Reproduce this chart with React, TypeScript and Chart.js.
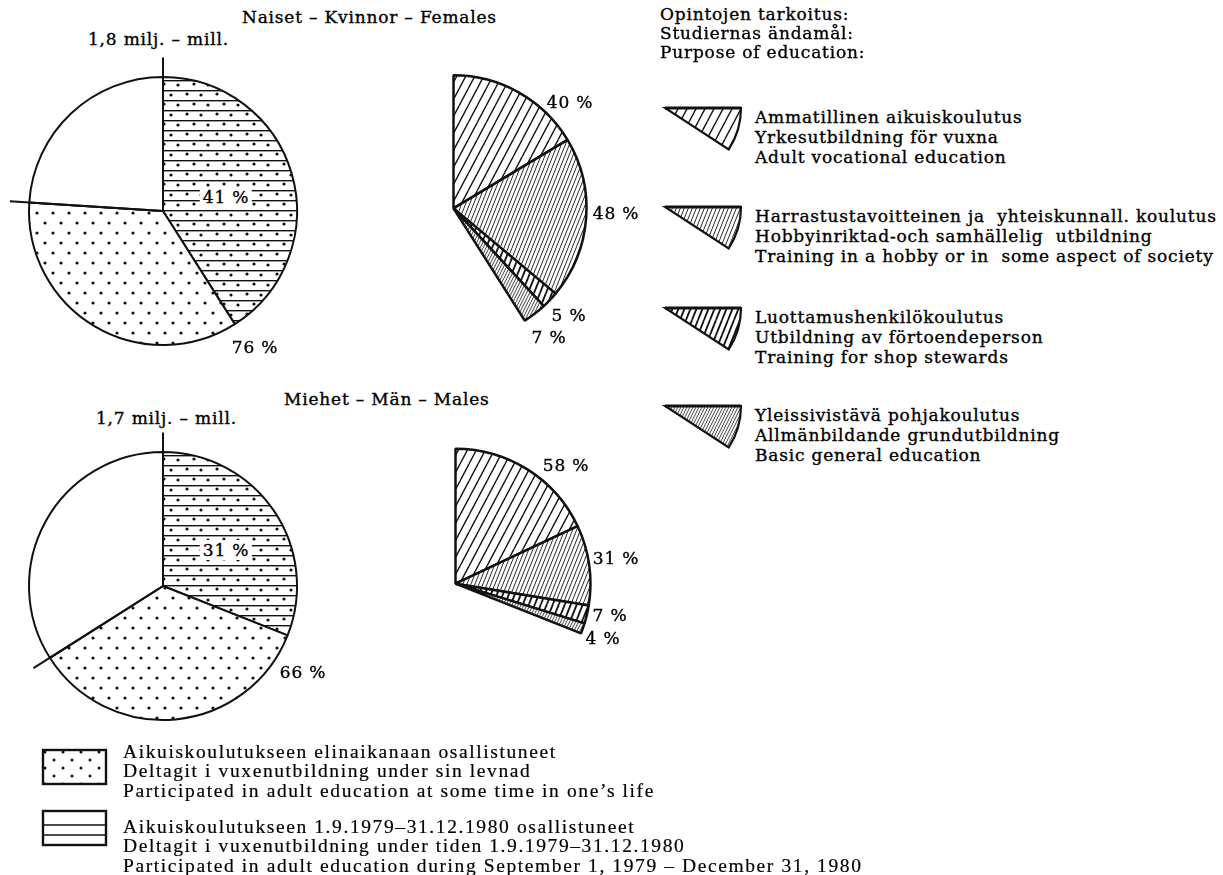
import React, { useEffect, useRef } from "react";
import { Chart, registerables } from "chart.js";

Chart.register(...registerables);

const INK = "#111111";

// ---------------- data ----------------
const purposeKeys = ["vocational", "hobby", "stewards", "basic"];
const purposeHeader = ["Opintojen tarkoitus:", "Studiernas ändamål:", "Purpose of education:"];
const purposeFi = [
  "Ammatillinen aikuiskoulutus",
  "Harrastustavoitteinen ja  yhteiskunnall. koulutus",
  "Luottamushenkilökoulutus",
  "Yleissivistävä pohjakoulutus",
];
const purposeSv = [
  "Yrkesutbildning för vuxna",
  "Hobbyinriktad-och samhällelig  utbildning",
  "Utbildning av förtoendeperson",
  "Allmänbildande grundutbildning",
];
const purposeEn = [
  "Adult vocational education",
  "Training in a hobby or in  some aspect of society",
  "Training for shop stewards",
  "Basic general education",
];

const participationKeys = ["recent", "earlier", "never"];
const participationFi = ["Aikuiskoulutukseen elinaikanaan osallistuneet", "Aikuiskoulutukseen 1.9.1979–31.12.1980 osallistuneet"];
const participationSv = ["Deltagit i vuxenutbildning under sin levnad", "Deltagit i vuxenutbildning under tiden 1.9.1979–31.12.1980"];
const participationEn = [
  "Participated in adult education at some time in one’s life",
  "Participated in adult education during September 1, 1979 – December 31, 1980",
];

const femaleTitle = "Naiset – Kvinnor – Females";
const femaleTotal = "1,8 milj. – mill.";
const femaleRecent = 41; // % participated 1.9.1979–31.12.1980
const femaleLifetime = 76; // % participated at some time
const femalePurpose = [40, 48, 5, 7];

const maleTitle = "Miehet – Män – Males";
const maleTotal = "1,7 milj. – mill.";
const maleRecent = 31;
const maleLifetime = 66;
const malePurpose = [58, 31, 7, 4];

// ---------------- styles ----------------
const HATCH: Record<string, { w: number; h: number; lw: number }> = {
  vocational: { w: 9, h: 17, lw: 1.4 },
  hobby: { w: 4, h: 10, lw: 0.9 },
  stewards: { w: 6, h: 15, lw: 1.8 },
  basic: { w: 3, h: 6, lw: 0.8 },
};

const TOP_FONT: React.CSSProperties = {
  fontFamily: '"DejaVu Serif", serif',
  fontSize: 17,
  letterSpacing: 0.8,
  color: "#000",
  lineHeight: "20px",
  whiteSpace: "pre",
  WebkitTextStroke: "0.35px #000",
};
const BOTTOM_FONT: React.CSSProperties = {
  fontFamily: '"Liberation Serif", serif',
  fontSize: 19.5,
  letterSpacing: 1.6,
  color: "#000",
  lineHeight: "20px",
  whiteSpace: "pre",
  WebkitTextStroke: "0.2px #000",
};

// ---------------- patterns ----------------
function tile(w: number, h: number, draw: (c: CanvasRenderingContext2D) => void): CanvasPattern {
  const cv = document.createElement("canvas");
  cv.width = w;
  cv.height = h;
  const c = cv.getContext("2d")!;
  c.fillStyle = "#fff";
  c.fillRect(0, 0, w, h);
  draw(c);
  return c.createPattern(cv, "repeat")!;
}

function dot(c: CanvasRenderingContext2D, x: number, y: number, r: number) {
  c.beginPath();
  c.arc(x, y, r, 0, Math.PI * 2);
  c.fill();
}

let cache: Record<string, CanvasPattern | string> | null = null;
function getPatterns() {
  if (cache) return cache;
  const p: Record<string, CanvasPattern | string> = { never: "#ffffff" };
  for (const k of purposeKeys) {
    const s = HATCH[k];
    p[k] = tile(s.w, s.h, (c) => {
      c.strokeStyle = INK;
      c.lineWidth = s.lw;
      for (const dx of [-s.w, 0, s.w]) {
        c.beginPath();
        c.moveTo(dx, s.h);
        c.lineTo(dx + s.w, 0);
        c.stroke();
      }
    });
  }
  p.earlier = tile(16, 20, (c) => {
    c.fillStyle = INK;
    dot(c, 3, 3, 1.6);
    dot(c, 11, 13, 1.6);
  });
  p.recent = tile(30, 20, (c) => {
    c.fillStyle = INK;
    c.fillRect(0, 0, 30, 1.4);
    c.fillRect(0, 10, 30, 1.4);
    dot(c, 5, 4, 1.6);
    dot(c, 19, 5, 1.6);
    dot(c, 12, 14, 1.6);
    dot(c, 26, 15, 1.6);
  });
  cache = p;
  return p;
}

// extension lines that mark the cumulative share on the full pies
const extLinesPlugin = {
  id: "extLines",
  afterDatasetsDraw(chart: any, _args: any, opts: any) {
    if (!opts || !opts.enabled) return;
    const arcs = chart.getDatasetMeta(0).data as any[];
    const first = arcs[0];
    const last = arcs[opts.lastIndex];
    const { x, y, outerRadius } = first;
    const len = outerRadius * opts.factor;
    const ctx = chart.ctx as CanvasRenderingContext2D;
    ctx.save();
    ctx.strokeStyle = INK;
    ctx.lineWidth = opts.width;
    for (const a of [first.startAngle, last.endAngle]) {
      ctx.beginPath();
      ctx.moveTo(x, y);
      ctx.lineTo(x + Math.cos(a) * len, y + Math.sin(a) * len);
      ctx.stroke();
    }
    ctx.restore();
  },
};

type PieProps = {
  cx: number;
  cy: number;
  r: number;
  values: number[];
  fills: string[];
  labels: string[];
  circumference: number;
  ext: boolean;
  border: number;
};

function PieCanvas({ cx, cy, r, values, fills, labels, circumference, ext, border }: PieProps) {
  const wrap = useRef<HTMLDivElement>(null);
  const cv = useRef<HTMLCanvasElement>(null);
  const size = Math.ceil(r * 2.4);
  useEffect(() => {
    const pats = getPatterns();
    const chart = new Chart(cv.current!, {
      type: "pie",
      data: {
        labels,
        datasets: [
          {
            data: values,
            backgroundColor: fills.map((f) => pats[f]),
            borderColor: INK,
            borderWidth: border,
            radius: r,
            rotation: 0,
            circumference,
          },
        ],
      },
      options: {
        responsive: false,
        animation: false,
        events: [],
        plugins: {
          legend: { display: false },
          tooltip: { enabled: false },
          extLines: { enabled: ext, factor: 1.145, lastIndex: 1, width: 2 },
        },
      },
      plugins: [extLinesPlugin],
    } as any);
    const a = chart.getDatasetMeta(0).data[0] as any;
    if (wrap.current) {
      wrap.current.style.left = `${cx - a.x}px`;
      wrap.current.style.top = `${cy - a.y}px`;
    }
    return () => chart.destroy();
  }, []);
  return (
    <div ref={wrap} style={{ position: "absolute", left: cx - size / 2, top: cy - size / 2, width: size, height: size }}>
      <canvas ref={cv} width={size} height={size} style={{ display: "block" }} />
    </div>
  );
}

function Txt({ x, y, text, font, center, bg }: { x: number; y: number; text: string; font: React.CSSProperties; center?: boolean; bg?: boolean }) {
  return (
    <div
      style={{
        ...font,
        position: "absolute",
        left: x,
        top: y - 10,
        transform: center ? "translateX(-50%)" : undefined,
        background: bg ? "#fff" : undefined,
        padding: bg ? "0 3px" : undefined,
      }}
    >
      {text}
    </div>
  );
}

function WedgeSwatch({ x, y, kind }: { x: number; y: number; kind: string }) {
  const s = HATCH[kind];
  const r = 76;
  const a = (33 * Math.PI) / 180;
  const ex = 3 + r * Math.cos(a);
  const ey = 3 + r * Math.sin(a);
  const id = `hatch-${kind}`;
  return (
    <svg style={{ position: "absolute", left: x - 3, top: y - 3 }} width={86} height={52}>
      <defs>
        <pattern id={id} width={s.w} height={s.h} patternUnits="userSpaceOnUse">
          <rect width={s.w} height={s.h} fill="#fff" />
          {[-s.w, 0, s.w].map((dx) => (
            <line key={dx} x1={dx} y1={s.h} x2={dx + s.w} y2={0} stroke={INK} strokeWidth={s.lw} />
          ))}
        </pattern>
      </defs>
      <path d={`M3,3 L${3 + r},3 A${r},${r} 0 0 1 ${ex},${ey} Z`} fill={`url(#${id})`} stroke={INK} strokeWidth={2.2} />
      <line x1={3} y1={3} x2={3 + r} y2={3} stroke={INK} strokeWidth={3} />
    </svg>
  );
}

function RectSwatch({ x, y, kind }: { x: number; y: number; kind: string }) {
  const w = 63;
  const h = 34;
  return (
    <svg style={{ position: "absolute", left: x - 2, top: y - 2 }} width={w + 4} height={h + 4}>
      <defs>
        <pattern id="dots-sw" width={18} height={16} patternUnits="userSpaceOnUse">
          <circle cx={4} cy={4} r={1.5} fill={INK} />
          <circle cx={13} cy={12} r={1.5} fill={INK} />
        </pattern>
      </defs>
      <rect x={2} y={2} width={w} height={h} fill={kind === "earlier" ? "url(#dots-sw)" : "#fff"} stroke={INK} strokeWidth={2.4} />
      {kind === "recent" && (
        <>
          <line x1={2} y1={16} x2={2 + w} y2={16} stroke={INK} strokeWidth={1.5} />
          <line x1={2} y1={26} x2={2 + w} y2={26} stroke={INK} strokeWidth={1.5} />
        </>
      )}
    </svg>
  );
}

export default function App() {
  const femaleShares = [femaleRecent, femaleLifetime - femaleRecent, 100 - femaleLifetime];
  const maleShares = [maleRecent, maleLifetime - maleRecent, 100 - maleLifetime];
  const legendTops = [117, 216, 317, 415];
  return (
    <div style={{ position: "absolute", left: 0, top: 0, width: 1223, height: 875, background: "#fff", overflow: "hidden" }}>
      {/* titles */}
      <Txt x={242} y={17} text={femaleTitle} font={TOP_FONT} />
      <Txt x={88} y={39} text={femaleTotal} font={TOP_FONT} />
      <Txt x={284} y={399} text={maleTitle} font={TOP_FONT} />
      <Txt x={96} y={418} text={maleTotal} font={TOP_FONT} />

      {/* pies */}
      <PieCanvas cx={163} cy={211} r={134} values={femaleShares} fills={participationKeys} labels={participationKeys} circumference={360} ext border={2} />
      <PieCanvas cx={163} cy={586} r={134} values={maleShares} fills={participationKeys} labels={participationKeys} circumference={360} ext border={2} />
      <PieCanvas cx={453} cy={208} r={133} values={femalePurpose} fills={purposeKeys} labels={purposeEn} circumference={(femaleRecent / 100) * 360} ext={false} border={2.5} />
      <PieCanvas cx={455} cy={584} r={135} values={malePurpose} fills={purposeKeys} labels={purposeEn} circumference={(maleRecent / 100) * 360} ext={false} border={2.5} />

      {/* pie labels */}
      <Txt x={226} y={197} text={`${femaleRecent} %`} font={TOP_FONT} center bg />
      <Txt x={255} y={347} text={`${femaleLifetime} %`} font={TOP_FONT} center />
      <Txt x={226} y={550} text={`${maleRecent} %`} font={TOP_FONT} center bg />
      <Txt x={303} y={672} text={`${maleLifetime} %`} font={TOP_FONT} center />

      <Txt x={570} y={102} text={`${femalePurpose[0]} %`} font={TOP_FONT} center />
      <Txt x={616} y={213} text={`${femalePurpose[1]} %`} font={TOP_FONT} center />
      <Txt x={569} y={315} text={`${femalePurpose[2]} %`} font={TOP_FONT} center />
      <Txt x={549} y={337} text={`${femalePurpose[3]} %`} font={TOP_FONT} center />

      <Txt x={566} y={465} text={`${malePurpose[0]} %`} font={TOP_FONT} center />
      <Txt x={616} y={558} text={`${malePurpose[1]} %`} font={TOP_FONT} center />
      <Txt x={610} y={615} text={`${malePurpose[2]} %`} font={TOP_FONT} center />
      <Txt x={603} y={638} text={`${malePurpose[3]} %`} font={TOP_FONT} center />

      {/* purpose legend */}
      {purposeHeader.map((t, i) => (
        <Txt key={t} x={660} y={14 + i * 19} text={t} font={TOP_FONT} />
      ))}
      {purposeKeys.map((k, i) => (
        <React.Fragment key={k}>
          <WedgeSwatch x={665} y={legendTops[i] - 9} kind={k} />
          <Txt x={755} y={legendTops[i]} text={purposeFi[i]} font={TOP_FONT} />
          <Txt x={755} y={legendTops[i] + 20} text={purposeSv[i]} font={TOP_FONT} />
          <Txt x={755} y={legendTops[i] + 40} text={purposeEn[i]} font={TOP_FONT} />
        </React.Fragment>
      ))}

      {/* participation legend */}
      <RectSwatch x={43} y={750} kind="earlier" />
      <RectSwatch x={43} y={811} kind="recent" />
      {[0, 1].map((i) => (
        <React.Fragment key={i}>
          <Txt x={123} y={752 + i * 75} text={participationFi[i]} font={BOTTOM_FONT} />
          <Txt x={123} y={771 + i * 75} text={participationSv[i]} font={BOTTOM_FONT} />
          <Txt x={123} y={791 + i * 75} text={participationEn[i]} font={BOTTOM_FONT} />
        </React.Fragment>
      ))}
    </div>
  );
}
